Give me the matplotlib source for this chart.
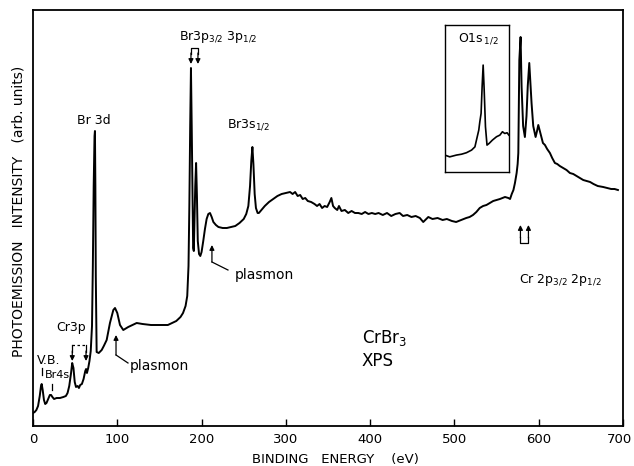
import matplotlib.pyplot as plt
from matplotlib.transforms import ScaledTranslation

# CrBr3 XPS survey spectrum (binding energy in eV, intensity in arb. units)
energy = [
    0, 2, 4, 6, 8, 9.5, 10.3, 11.5, 13, 14.5, 16, 18, 20, 21.5, 23, 25, 28, 32, 36, 39,
    41, 43, 45, 46.5, 48, 49.5, 51, 53, 54.5, 56, 58, 60, 62, 63, 64, 65.5, 67, 68.5,
    70, 71, 72, 73, 73.5, 74, 74.5, 75.5, 78, 81.5, 84, 87.4, 91.3, 95.3, 97.3, 100,
    103.2, 107.1, 113, 123, 130, 140, 150, 160, 165, 170, 175, 178, 181, 183, 184.5,
    185.5, 186.5, 187.4, 188.3, 189.2, 190, 190.8, 191.5, 192.5, 193.5, 194.5, 195.5,
    197, 198.5, 200, 202, 204, 206, 208, 210, 212, 214, 217, 220, 225, 230, 235, 240,
    245, 250, 253, 255.5, 257.5, 259, 260.3, 261.5, 263, 264.5, 266.5, 268, 271, 275,
    280, 285, 290, 295, 300, 305, 308, 311, 314, 317, 320, 323, 326, 330, 334, 337,
    340, 343, 346, 349, 352, 354, 356, 358, 361, 363, 366, 370, 374, 378, 382, 386,
    390, 394, 398, 402, 406, 410, 415, 420, 425, 430, 435, 439, 444, 449, 454, 459,
    463, 469, 474, 480, 486, 491, 497, 502, 508, 514, 518, 522, 526, 530, 534, 538,
    542, 546, 550, 554, 557, 560, 564, 566, 568, 570, 571.8, 573.8, 575, 575.8, 577,
    578.5, 579.7, 581.5, 583.6, 585.5, 587, 588.8, 590, 591.5, 593.5, 596.3, 598,
    599.5, 601, 602.6, 605, 607.4, 610, 613.3, 616, 619.2, 622, 625, 629, 633, 637,
    641, 645, 649, 652.8, 657, 661, 665, 670, 676.5, 681, 686, 690, 694,
]
intensity = [
    13, 14, 16, 20, 30, 40, 42, 36, 26, 22, 23, 27, 31, 31, 29, 27, 28, 28, 29, 30,
    33, 40, 52, 63, 58, 44, 39, 40, 38, 41, 42, 47, 55, 57, 53, 58, 65, 75,
    100, 160, 240, 290, 295, 240, 150, 74, 73, 76, 80, 86, 103, 116, 118, 113,
    101, 96, 99, 103, 102, 101, 101, 101, 103, 105, 109, 113, 120, 130, 160,
    220, 300, 358, 300, 230, 178, 175, 200, 240, 263, 230, 185,
    172, 170, 174, 185, 197, 207, 212, 213, 209, 204, 201, 199, 198, 198, 199, 200,
    203, 207, 212, 220, 240, 265, 279, 262, 232, 218, 213, 213, 216, 220,
    224, 227, 230, 232, 233, 234, 232, 234, 230, 231, 227, 228, 225, 224, 222, 220,
    222, 218, 220, 219, 224, 228, 220, 218, 216, 220, 215, 216, 213, 215, 213, 213,
    212, 214, 212, 213, 212, 213, 211, 213, 210, 212, 213, 210, 211, 209, 210, 208,
    204, 209, 207, 208, 206, 207, 205, 204, 206, 208, 209, 211, 214, 218, 220, 221,
    223, 225, 226, 227, 228, 229, 228, 227, 232, 236, 243, 253, 262, 273, 366,
    389, 339, 300, 289, 310, 340, 363, 345, 323, 300, 289, 295,
    301, 296, 291, 283, 281, 277, 273, 268, 263, 262, 260, 258, 256, 253,
    252, 250, 248, 246, 245, 244, 242, 240, 239, 238, 237, 237, 236,
]

# O 1s inset
o1s_energy = [
    516, 517.9, 520.5, 522.5, 524.4, 526.4, 527.7, 528.3, 529.2, 529.6, 530.1, 530.5,
    530.9, 531.3, 531.8, 532.4, 533.2, 534.5, 536.1, 537.4, 538.4, 539.3, 540.2, 540.9,
]
o1s_intensity = [
    11.4, 10.2, 11.4, 12, 13, 14.8, 17, 21.6, 28.4, 34, 39.8, 58,
    72.7, 55.7, 30.7, 18.2, 19.3, 21.6, 23.9, 25, 27.3, 26.1, 26.6, 25,
]

x_ticks = [0, 100, 200, 300, 400, 500, 600, 700]

fig = plt.figure(figsize=(6.34, 4.66), dpi=100)
ax = fig.add_axes([33 / 634, 1 - 426 / 466, 590 / 634, 416 / 466])

ax.plot(energy, intensity, color="black", lw=1.4)
ax.set_xlim(0, 700)
ax.set_ylim(0, 416)
ax.set_xticks(x_ticks)
ax.set_yticks([])
ax.tick_params(axis="x", direction="in", length=5, width=1, labelsize=9.5, pad=5)
# keep the last tick label inside the figure
last = ax.get_xticklabels()[-1]
last.set_transform(last.get_transform()
                   + ScaledTranslation(-3 / 100, 0, fig.dpi_scale_trans))
for spine in ax.spines.values():
    spine.set_linewidth(1.3)

fig.text(335 / 634, 1 - 459 / 466, "BINDING   ENERGY    (eV)",
         ha="center", va="center", fontsize=9.5)
fig.text(19 / 634, 1 - 211 / 466, "PHOTOEMISSION   INTENSITY   (arb. units)",
         rotation=90, ha="center", va="center", fontsize=10)

arrow = dict(arrowstyle="-|>", color="black", lw=0.9, mutation_scale=7,
             shrinkA=0, shrinkB=0)

# peak labels
ax.text(72.4, 305, "Br 3d", ha="center", va="center", fontsize=9)
ax.text(173, 389, r"Br3p$_{3/2}$ 3p$_{1/2}$", ha="left", va="center", fontsize=9)
ax.plot([187.4, 187.4, 195.7, 195.7], [372, 378, 378, 372], color="black", lw=0.9)
ax.annotate("", xy=(187.4, 362), xytext=(187.4, 373), arrowprops=arrow)
ax.annotate("", xy=(195.7, 362), xytext=(195.7, 373), arrowprops=arrow)
ax.text(230, 301, r"Br3s$_{1/2}$", ha="left", va="center", fontsize=9)

# Cr 2p
ax.plot([578.3, 578.3, 587.8, 587.8], [189, 183, 183, 189], color="black", lw=0.9)
ax.annotate("", xy=(578.3, 201), xytext=(578.3, 188), arrowprops=arrow)
ax.annotate("", xy=(587.8, 201), xytext=(587.8, 188), arrowprops=arrow)
ax.text(576.5, 146, r"Cr 2p$_{3/2}$ 2p$_{1/2}$", ha="left", va="center", fontsize=9)

# plasmons
ax.plot([231.3, 212.3], [156, 164], color="black", lw=0.9)
ax.annotate("", xy=(212.3, 181), xytext=(212.3, 164), arrowprops=arrow)
ax.text(239.6, 151, "plasmon", ha="left", va="center", fontsize=10)
ax.plot([112.7, 98.5], [63, 71], color="black", lw=0.9)
ax.annotate("", xy=(98.5, 91), xytext=(98.5, 71), arrowprops=arrow)
ax.text(115, 60, "plasmon", ha="left", va="center", fontsize=10)

# Cr 3p, V.B., Br 4s
ax.text(27.3, 99, "Cr3p", ha="left", va="center", fontsize=9)
ax.plot([46.6, 62.9], [81, 81], color="black", lw=0.9, ls=(0, (2, 2)))
ax.plot([46.6, 46.6], [81, 74], color="black", lw=0.9)
ax.plot([62.9, 62.9], [81, 74], color="black", lw=0.9)
ax.annotate("", xy=(46.6, 65), xytext=(46.6, 75), arrowprops=arrow)
ax.annotate("", xy=(62.9, 65), xytext=(62.9, 75), arrowprops=arrow)
ax.text(4.7, 66, "V.B.", ha="left", va="center", fontsize=9)
ax.plot([10.3, 10.3], [51, 58], color="black", lw=0.9)
ax.text(13.5, 51, "Br4s", ha="left", va="center", fontsize=8)
ax.plot([22.2, 22.2], [36, 42], color="black", lw=0.9)

ax.text(390, 88, r"CrBr$_3$", ha="left", va="center", fontsize=12)
ax.text(390, 65, "XPS", ha="left", va="center", fontsize=12)

# O 1s inset
axins = ax.inset_axes([0.698, 0.611, 0.109, 0.353])
axins.plot(o1s_energy, o1s_intensity, color="black", lw=1.2)
axins.set_xlim(516, 541)
axins.set_ylim(0, 100)
axins.set_xticks([])
axins.set_yticks([])
for spine in axins.spines.values():
    spine.set_linewidth(1.0)
axins.text(0.2, 0.905, r"O1s$_{\,1/2}$", transform=axins.transAxes,
           ha="left", va="center", fontsize=9)

fig.savefig("out.png", dpi=100)
